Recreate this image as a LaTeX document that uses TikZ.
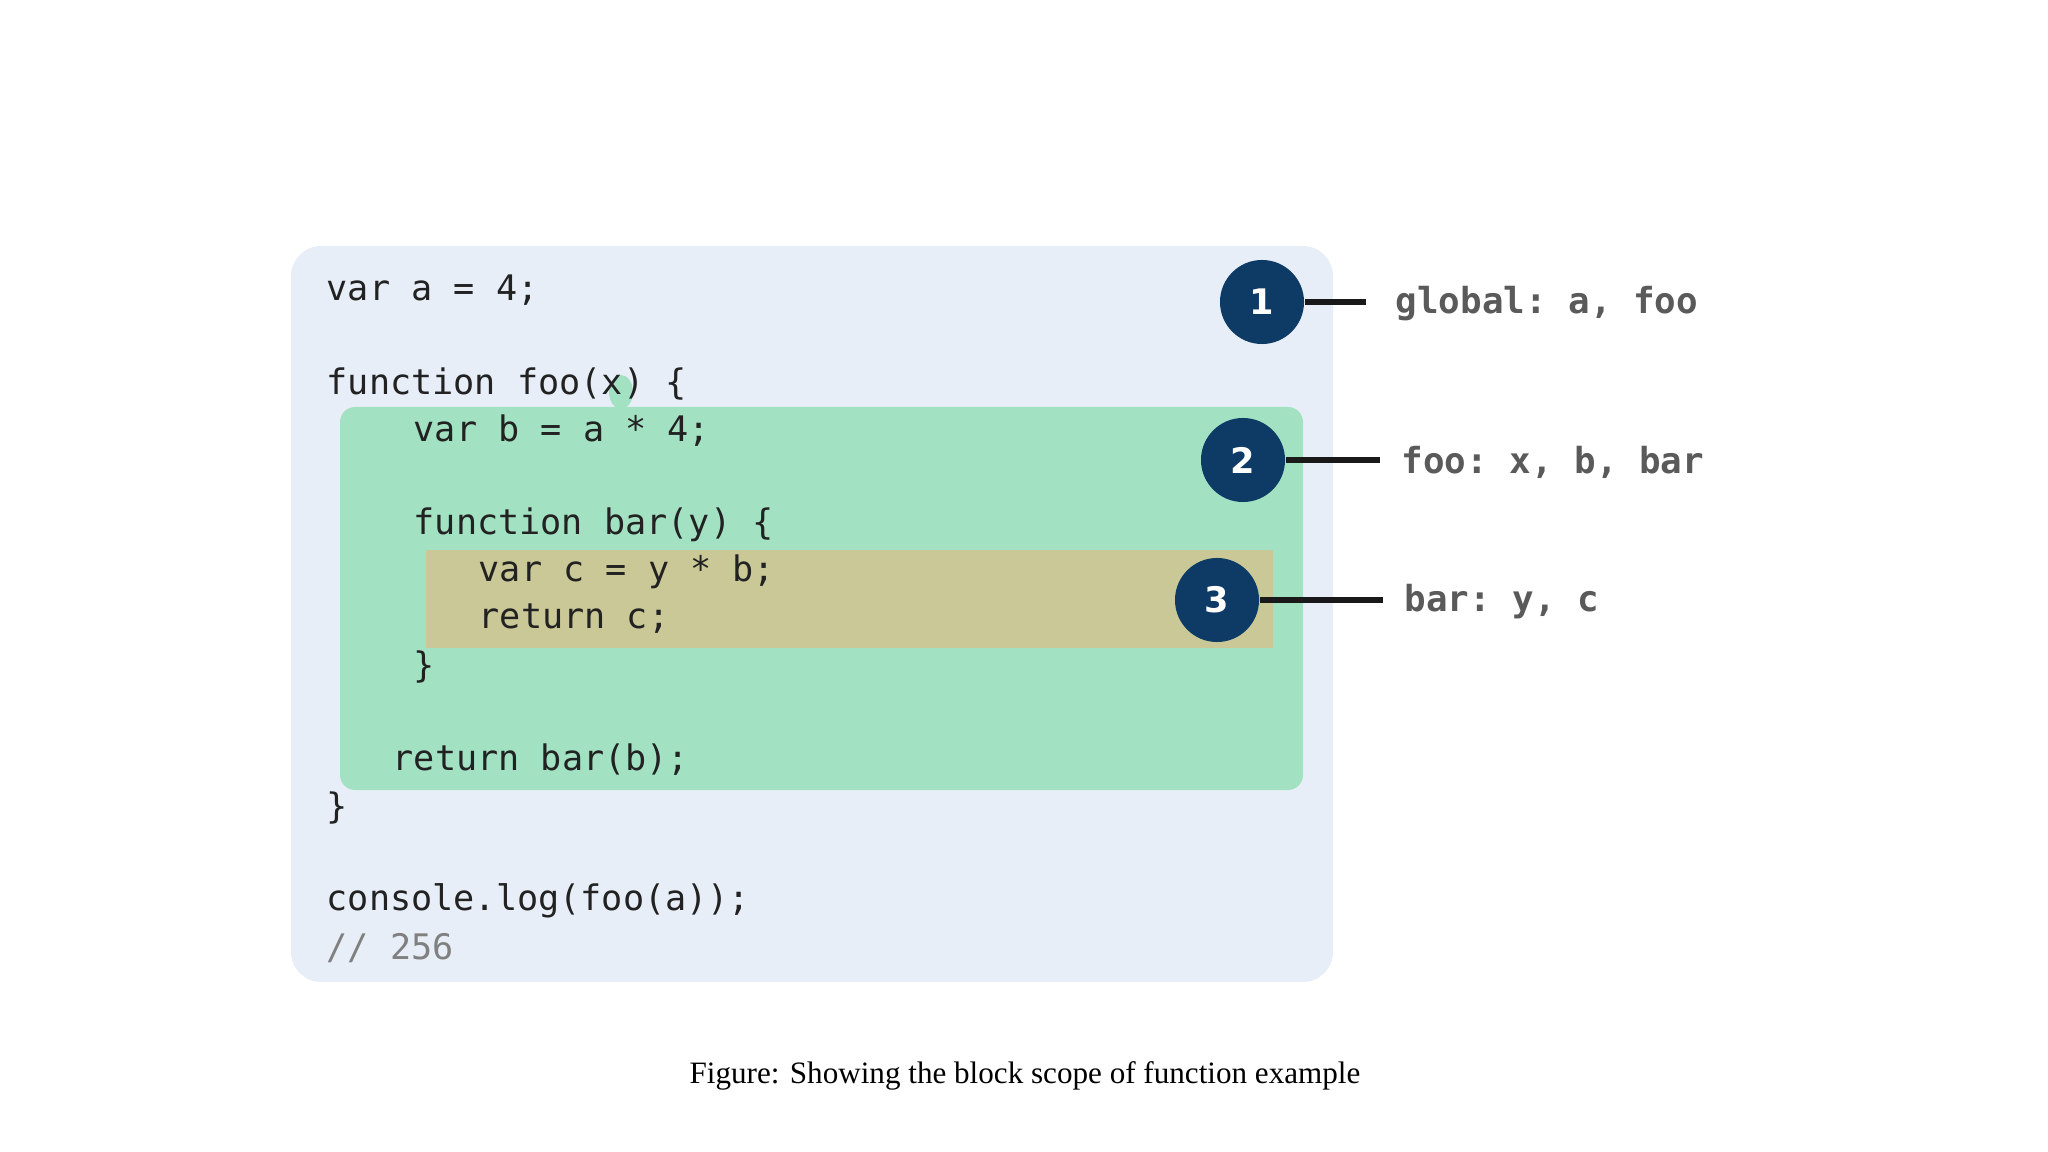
\documentclass[tikz,border=0pt]{standalone}
\usepackage{fontspec}
\setmainfont{Liberation Serif}
\setmonofont{DejaVu Sans Mono}
\setsansfont{DejaVu Sans}
\definecolor{outerbg}{HTML}{E8EEF7}
\definecolor{greenbg}{HTML}{A2E2C3}
\definecolor{olivebg}{HTML}{CAC896}
\definecolor{navy}{HTML}{0D3B66}
\definecolor{codegray}{HTML}{222222}
\definecolor{labgray}{HTML}{5A5A5A}
\begin{document}
\begin{tikzpicture}[x=0.01cm,y=-0.01cm,
  code/.style={anchor=west,inner sep=0pt,font=\ttfamily\fontsize{10}{12}\selectfont,text=codegray},
  lab/.style={anchor=west,inner sep=0pt,font=\ttfamily\bfseries\fontsize{10.2}{12}\selectfont,text=labgray},
  badge/.style={circle,fill=navy,text=white,minimum size=0.84cm,inner sep=0pt,font=\sffamily\bfseries\fontsize{10}{12}\selectfont},
  conn/.style={line width=1.6pt,draw=black!90}]
\useasboundingbox (0,0) rectangle (2048,1152);
\fill[outerbg,rounded corners=0.3cm] (291,246) rectangle (1333,982);
\fill[greenbg,rounded corners=0.15cm] (340,407) rectangle (1303,790);
\fill[olivebg] (426,550) rectangle (1273,648);
\fill[greenbg] (621,392) ellipse (12 and 17);
\node[code] (l1) at (326,290) {var a = 4;};
\node[code] (l2) at (326,384) {function foo(x) \{};
\node[code] (l3) at (413,431) {var b = a * 4;};
\node[code] (l4) at (413,525) {function bar(y) \{};
\node[code] (l5) at (478,572) {var c = y * b;};
\node[code] (l6) at (478,619) {return c;};
\node[code] (l7) at (413,667) {\}};
\node[code] (l8) at (392,760) {return bar(b);};
\node[code] (l9) at (326,808) {\}};
\node[code] (l10) at (326,901) {console.log(foo(a));};
\node[code,text=gray] (l11) at (326,948) {// 256};
\node[badge] (b1) at (1262,302) {1};
\node[badge] (b2) at (1243,460) {2};
\node[badge] (b3) at (1217,600) {3};
\node[lab] (t1) at (1395,304) {global: a, foo};
\node[lab] (t2) at (1401,462) {foo: x, b, bar};
\node[lab] (t3) at (1404,602) {bar: y, c};
\coordinate (e1) at (1366,302);
\coordinate (e2) at (1380,460);
\coordinate (e3) at (1383,600);
\draw[conn] (b1.east) -- (e1);
\draw[conn] (b2.east) -- (e2);
\draw[conn] (b3.east) -- (e3);
\node[anchor=center,inner sep=0pt,font=\fontsize{8.85}{11}\selectfont] (cap) at (1025,1076) {Figure: Showing the block scope of function example};
\end{tikzpicture}
\end{document}
